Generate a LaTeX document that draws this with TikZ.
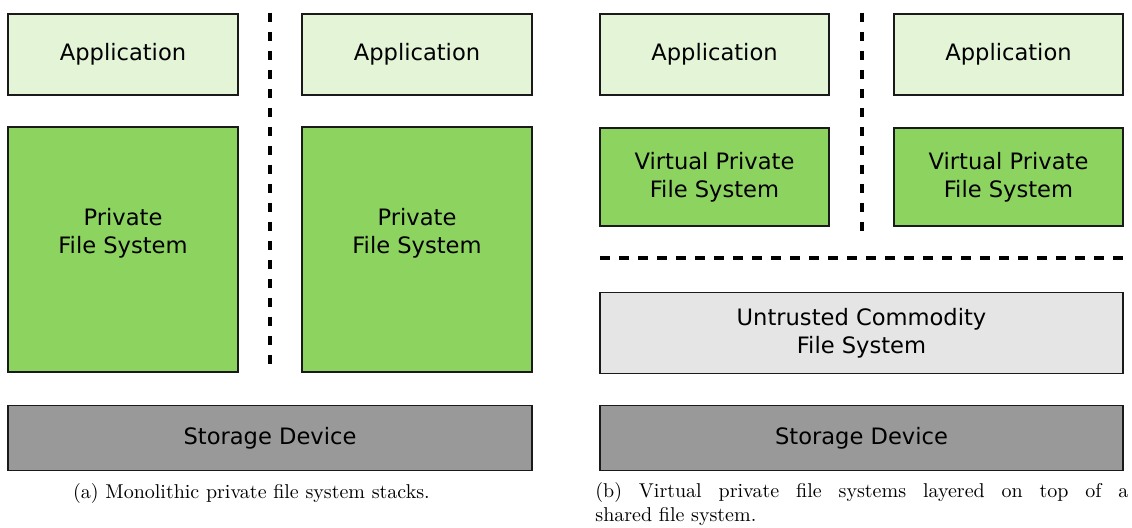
\documentclass[tikz,border=0pt]{standalone}
\usepackage{fontspec}
\newfontfamily\dejavu{DejaVu Sans}
\definecolor{applight}{HTML}{E3F4D7}
\definecolor{fsgreen}{HTML}{8DD35F}
\definecolor{storegray}{HTML}{999999}
\definecolor{untrgray}{HTML}{E5E5E5}
\definecolor{edge}{HTML}{1A1A1A}
\begin{document}
\begin{tikzpicture}[x=0.5pt,y=-0.5pt,
  boxfont/.style={font=\dejavu\fontsize{11.3}{14}\selectfont},
  layerbox/.style={draw=edge, line width=0.6pt, inner sep=0pt, align=center, boxfont},
  appbox/.style={layerbox, fill=applight, minimum width=115pt, minimum height=40.5pt},
  pfsbox/.style={layerbox, fill=fsgreen, minimum width=115pt, minimum height=122.5pt},
  vpfsbox/.style={layerbox, fill=fsgreen, minimum width=114.5pt, minimum height=49pt},
  storebox/.style={layerbox, fill=storegray, minimum height=32.5pt},
  untrbox/.style={layerbox, fill=untrgray, minimum width=261.5pt, minimum height=40.5pt},
  boxlabel/.style={inner sep=0pt, align=center, boxfont},
  divider/.style={line width=1.9pt, dash pattern=on 4.75pt off 4.75pt},
  captext/.style={font=\fontsize{10}{12}\selectfont, inner sep=0pt}]
\useasboundingbox (0,0) rectangle (1132,528);
% left panel
\node[appbox] (app1) at (123,54.5) {Application};
\node[appbox] (app2) at (417,54.5) {Application};
\node[pfsbox] (pfs1) at (123,249.5) {};
\node[pfsbox] (pfs2) at (417,249.5) {};
\node[boxlabel] (pfs1text) at (123,233.5) {Private\\File System};
\node[boxlabel] (pfs2text) at (417,233.5) {Private\\File System};
\node[storebox, minimum width=262pt] (store1) at (270,438) {Storage Device};
\coordinate (lvtop) at (270,13);
\coordinate (lvbot) at (270,372);
\draw[divider] (lvtop) -- (lvbot);
\node[captext, anchor=base] (capa) at (251.5,499) {(a) Monolithic private file system stacks.};
% right panel
\node[appbox, minimum width=114.5pt] (app3) at (714.5,54.5) {Application};
\node[appbox, minimum width=114.5pt] (app4) at (1008.5,54.5) {Application};
\node[vpfsbox] (vpfs3) at (714.5,177) {Virtual Private\\File System};
\node[vpfsbox] (vpfs4) at (1008.5,177) {Virtual Private\\File System};
\node[untrbox] (untr) at (861.5,333) {Untrusted Commodity\\File System};
\node[storebox, minimum width=261.5pt] (store2) at (861.5,438) {Storage Device};
\coordinate (rvtop) at (862,13);
\coordinate (rvbot) at (862,238);
\coordinate (rhl) at (600,258);
\coordinate (rhr) at (1123,258);
\draw[divider] (rvtop) -- (rvbot);
\draw[divider] (rhl) -- (rhr);
\node[captext, anchor=base west, text width=266.5pt, align=justify] (capb) at (595,498)
  {(b) Virtual private file systems layered on top of a\linebreak shared file system.};
\end{tikzpicture}
\end{document}
